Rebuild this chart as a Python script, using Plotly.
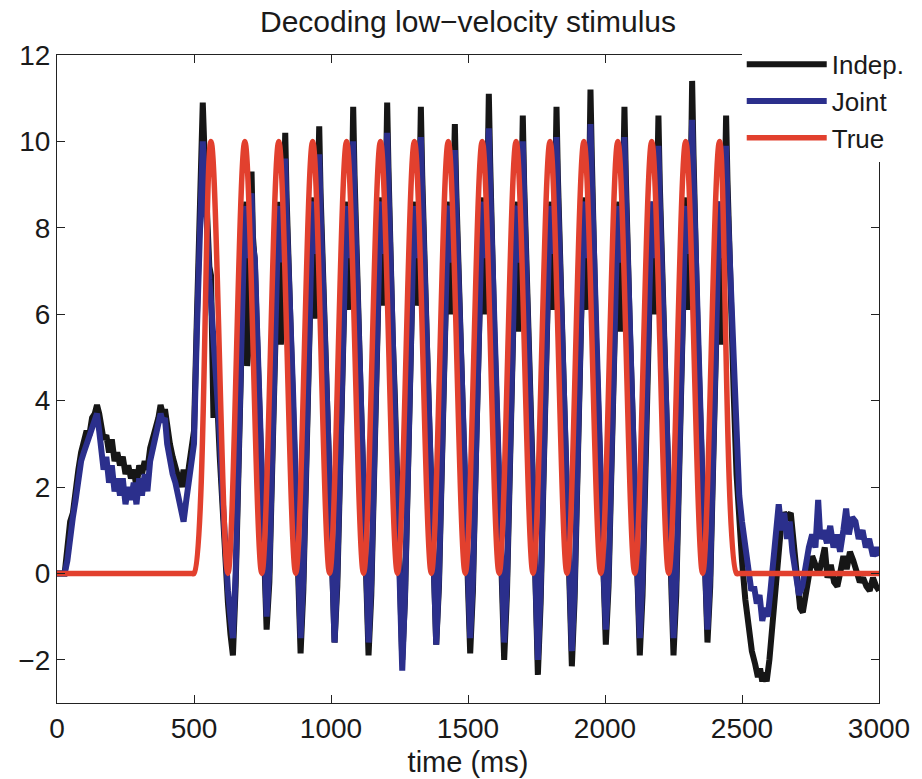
import plotly.graph_objects as go

# ---------------- data ----------------
# True stimulus: troughs/peaks of the velocity signal (ms, value)
true_t = [0, 490, 500, 561.9, 623.8, 685.6, 747.5, 809.4, 871.3, 933.1, 995.0,
          1056.9, 1118.8, 1180.6, 1242.5, 1304.4, 1366.3, 1428.1, 1490.0, 1551.9,
          1613.8, 1675.6, 1737.5, 1799.4, 1861.3, 1923.1, 1985.0, 2046.9, 2108.8,
          2170.6, 2232.5, 2294.4, 2356.3, 2418.1, 2480.0, 2490, 3000]
true_v = [0, 0, 0, 10, 0, 10, 0, 10, 0, 10, 0,
          10, 0, 10, 0, 10, 0, 10, 0, 10,
          0, 10, 0, 10, 0, 10, 0, 10, 0,
          10, 0, 10, 0, 10, 0, 0, 0]

# Pre-stimulus part and first cycle (shared time stamps)
pre_t = [0, 28, 38, 48, 58, 68, 78, 88, 98, 108, 118, 128, 138, 146, 154, 162, 170,
         180, 190, 200, 210, 220, 230, 240, 250, 260, 270, 280, 290, 300, 310, 320,
         330, 340, 350, 360, 370, 378, 386, 394, 402, 412, 422, 432, 442, 452, 462,
         472, 482, 492, 500, 510, 520, 532, 538, 544, 550, 556, 562, 567, 571, 576,
         584, 594, 604, 614, 624, 633]
pre_indep = [0, 0, 0.6, 1.2, 1.4, 2.0, 2.4, 2.8, 3.0, 3.3, 3.2, 3.6, 3.7, 3.9, 3.7, 3.4, 3.1,
             3.2, 2.8, 3.1, 2.6, 2.8, 2.5, 2.7, 2.3, 2.5, 2.2, 2.4, 2.0, 2.5, 2.3, 2.6,
             2.4, 2.9, 3.1, 3.4, 3.6, 3.9, 3.7, 3.8, 3.3, 3.0, 2.7, 2.5, 2.2, 2.0, 2.4,
             2.0, 2.5, 2.9, 3.3, 5.8, 8.6, 10.9, 9.8, 8.6, 7.6, 7.1, 6.9, 5.5, 3.6, 4.5,
             4.1, 2.7, 1.4, 0.3, -0.7, -1.4]
pre_joint = [0, 0, 0.3, 0.9, 1.3, 1.7, 2.2, 2.6, 2.8, 3.0, 3.1, 3.3, 3.5, 3.7, 3.3, 2.8, 2.4,
             2.7, 2.1, 2.5, 1.9, 2.2, 1.8, 2.2, 1.6, 2.0, 1.7, 2.1, 1.6, 2.2, 1.8, 2.3,
             1.9, 2.6, 2.9, 3.2, 3.4, 3.7, 3.5, 3.6, 3.0, 2.6, 2.3, 2.1, 1.8, 1.5, 1.2,
             1.7, 2.1, 2.6, 3.0, 5.5, 8.2, 10.0, 9.3, 8.3, 7.4, 6.8, 6.3, 5.8, 5.2, 4.8,
             4.4, 3.2, 1.8, 0.6, -0.4, -1.0]

# Oscillation cycles 1..15 (time stamps shared by both decoders)
cyc_t = [
    [642, 652, 664, 676, 685, 691, 694, 699, 704, 710, 715, 722, 730, 738, 748, 758],
    [765, 775, 787, 799, 808, 814, 817, 822, 827, 833, 838, 845, 853, 861, 871, 881],
    [889, 899, 911, 923, 932, 938, 941, 946, 951, 957, 962, 969, 977, 985, 995, 1005],
    [1013, 1023, 1035, 1047, 1056, 1062, 1065, 1070, 1075, 1081, 1086, 1093, 1101, 1109, 1119, 1129],
    [1137, 1147, 1159, 1171, 1180, 1186, 1189, 1194, 1199, 1205, 1210, 1217, 1225, 1233, 1243, 1253],
    [1260, 1270, 1282, 1294, 1303, 1309, 1312, 1317, 1322, 1328, 1333, 1340, 1348, 1356, 1366, 1376],
    [1384, 1394, 1406, 1418, 1427, 1433, 1436, 1441, 1446, 1452, 1457, 1464, 1472, 1480, 1490, 1500],
    [1508, 1518, 1530, 1542, 1551, 1557, 1560, 1565, 1570, 1576, 1581, 1588, 1596, 1604, 1614, 1624],
    [1632, 1642, 1654, 1666, 1675, 1681, 1684, 1689, 1694, 1700, 1705, 1712, 1720, 1728, 1738, 1748],
    [1755, 1765, 1777, 1789, 1798, 1804, 1807, 1812, 1817, 1823, 1828, 1835, 1843, 1851, 1861, 1871],
    [1879, 1889, 1901, 1913, 1922, 1928, 1931, 1936, 1941, 1947, 1952, 1959, 1967, 1975, 1985, 1995],
    [2003, 2013, 2025, 2037, 2046, 2052, 2055, 2060, 2065, 2071, 2076, 2083, 2091, 2099, 2109, 2119],
    [2127, 2137, 2149, 2161, 2170, 2176, 2179, 2184, 2189, 2195, 2200, 2207, 2215, 2223, 2233, 2243],
    [2250, 2260, 2272, 2284, 2293, 2299, 2302, 2307, 2312, 2318, 2323, 2330, 2338, 2346, 2356, 2366],
    [2374, 2384, 2396, 2408, 2417, 2423, 2426, 2431, 2436, 2442, 2447, 2454, 2462, 2470, 2480, 2490],
]
cyc_indep = [
    [-1.9, -0.3, 3.0, 6.2, 8.2, 8.6, 4.8, 5.2, 8.5, 9.3, 7.8, 7.2, 5.5, 4.0, 1.9, -0.4],
    [-1.3, -0.2, 3.1, 6.3, 8.1, 8.6, 5.3, 5.7, 8.5, 10.2, 8.7, 7.1, 5.6, 4.1, 1.8, -0.5],
    [-1.85, -0.4, 2.9, 6.1, 8.3, 8.7, 5.9, 6.3, 8.6, 10.35, 8.8, 7.3, 5.4, 3.9, 2.0, -0.3],
    [-1.6, -0.3, 3.0, 6.3, 8.2, 8.6, 6.1, 6.5, 8.5, 10.8, 9.2, 7.2, 5.6, 4.0, 1.9, -0.4],
    [-1.9, -0.5, 2.8, 6.2, 8.3, 8.7, 6.2, 6.6, 8.6, 10.9, 9.3, 7.1, 5.5, 4.1, 1.8, -0.5],
    [-2.0, -0.6, 2.9, 6.1, 8.2, 8.6, 6.2, 6.5, 8.5, 10.8, 9.2, 7.3, 5.6, 4.0, 2.0, -0.4],
    [-1.65, -0.3, 3.1, 6.3, 8.3, 8.6, 6.0, 6.4, 8.6, 10.4, 8.9, 7.2, 5.5, 3.9, 1.9, -0.3],
    [-1.85, -0.4, 3.0, 6.2, 8.2, 8.7, 6.0, 6.4, 8.6, 11.1, 9.5, 7.3, 5.6, 4.0, 1.8, -0.5],
    [-2.0, -0.5, 2.9, 6.2, 8.3, 8.6, 5.6, 6.0, 8.5, 10.6, 9.0, 7.2, 5.5, 4.1, 1.9, -0.6],
    [-2.35, -0.7, 2.8, 6.1, 8.2, 8.6, 6.1, 6.5, 8.6, 10.8, 9.2, 7.2, 5.6, 4.0, 1.8, -0.5],
    [-2.15, -0.6, 2.9, 6.2, 8.3, 8.7, 6.1, 6.5, 8.5, 11.2, 9.6, 7.3, 5.5, 3.9, 1.9, -0.3],
    [-1.65, -0.3, 3.1, 6.3, 8.2, 8.6, 5.6, 6.0, 8.6, 10.8, 9.2, 7.1, 5.6, 4.0, 1.9, -0.4],
    [-1.9, -0.5, 3.0, 6.2, 8.3, 8.6, 6.0, 6.4, 8.5, 10.6, 9.0, 7.2, 5.5, 4.1, 1.8, -0.5],
    [-1.9, -0.5, 2.9, 6.2, 8.2, 8.7, 6.1, 6.5, 8.6, 11.4, 9.7, 7.3, 5.6, 4.0, 1.9, -0.3],
    [-1.6, -0.3, 3.0, 6.3, 8.3, 8.6, 5.3, 5.7, 8.5, 10.6, 9.1, 7.3, 5.6, 4.1, 2.3, 1.1],
]
cyc_joint = [
    [-1.5, 0.0, 3.3, 6.5, 8.3, 8.5, 7.3, 7.5, 8.4, 8.8, 7.6, 7.3, 5.7, 4.2, 2.1, -0.2],
    [-1.0, 0.1, 3.4, 6.6, 8.3, 8.5, 7.2, 7.6, 8.7, 9.6, 8.3, 7.2, 5.8, 4.3, 2.2, -0.1],
    [-1.5, -0.1, 3.2, 6.4, 8.4, 8.6, 7.4, 7.6, 8.8, 9.7, 8.4, 7.4, 5.6, 4.1, 2.2, 0.0],
    [-1.6, 0.0, 3.3, 6.5, 8.3, 8.5, 7.3, 7.6, 8.7, 10.0, 8.7, 7.3, 5.8, 4.2, 2.1, -0.2],
    [-1.6, -0.2, 3.2, 6.5, 8.4, 8.6, 7.4, 7.7, 8.8, 10.2, 8.9, 7.2, 5.7, 4.3, 2.0, -0.3],
    [-2.25, -0.5, 3.1, 6.4, 8.3, 8.5, 7.3, 7.6, 8.7, 10.1, 8.8, 7.4, 5.8, 4.2, 2.2, -0.2],
    [-1.65, -0.1, 3.4, 6.6, 8.4, 8.5, 7.2, 7.5, 8.8, 9.8, 8.5, 7.3, 5.7, 4.1, 2.1, 0.0],
    [-1.5, -0.1, 3.3, 6.5, 8.3, 8.6, 7.3, 7.6, 8.8, 10.3, 9.0, 7.4, 5.8, 4.2, 2.0, -0.2],
    [-1.6, -0.2, 3.2, 6.5, 8.4, 8.5, 7.2, 7.5, 8.7, 10.0, 8.7, 7.3, 5.7, 4.3, 2.1, -0.3],
    [-2.0, -0.4, 3.1, 6.4, 8.3, 8.5, 7.4, 7.7, 8.8, 10.1, 8.8, 7.3, 5.8, 4.2, 2.0, -0.2],
    [-1.8, -0.3, 3.2, 6.5, 8.4, 8.6, 7.3, 7.6, 8.7, 10.4, 9.1, 7.4, 5.7, 4.1, 2.1, 0.0],
    [-1.3, 0.0, 3.4, 6.6, 8.3, 8.5, 7.2, 7.5, 8.8, 10.1, 8.8, 7.2, 5.8, 4.2, 2.1, -0.1],
    [-1.5, -0.1, 3.3, 6.5, 8.4, 8.6, 7.3, 7.6, 8.7, 9.9, 8.6, 7.3, 5.7, 4.3, 2.0, -0.2],
    [-1.5, -0.1, 3.2, 6.5, 8.3, 8.5, 7.4, 7.7, 8.8, 10.5, 9.2, 7.4, 5.8, 4.2, 2.1, 0.0],
    [-1.3, 0.0, 3.3, 6.6, 8.4, 8.6, 7.3, 7.6, 8.7, 9.9, 8.6, 7.4, 5.9, 4.4, 2.8, 1.8],
]

# Post-stimulus part
post_t_indep = [2500, 2512, 2524, 2536, 2548, 2558, 2566, 2574, 2582, 2590, 2600, 2610, 2620,
                2632, 2644, 2654, 2666, 2678, 2688, 2700, 2712, 2722, 2732, 2744, 2756, 2768,
                2780, 2792, 2802, 2812, 2824, 2836, 2848, 2858, 2870, 2882, 2894, 2906, 2918,
                2930, 2942, 2954, 2966, 2978, 2990, 3000]
post_indep = [0.3, -0.6, -1.3, -1.8, -2.1, -2.4, -2.2, -2.5, -2.3, -2.5, -2.0, -1.2, -0.3,
              0.6, 1.2, 1.4, 1.3, 1.4, 0.7, -0.2, -0.8, -0.9, -0.5, 0.0, 0.4, 0.2,
              0.0, 0.3, 0.6, -0.1, 0.2, -0.2, -0.3, 0.0, 0.4, 0.1, 0.5, 0.3, 0.0,
              -0.2, -0.1, -0.3, -0.4, -0.1, -0.3, -0.4]
post_t_joint = [2500, 2512, 2524, 2534, 2544, 2554, 2564, 2574, 2584, 2594, 2604, 2614, 2624,
                2634, 2644, 2654, 2664, 2674, 2684, 2696, 2708, 2720, 2732, 2744, 2756, 2768,
                2778, 2786, 2798, 2810, 2822, 2834, 2846, 2858, 2870, 2880, 2890, 2902, 2914,
                2926, 2940, 2952, 2964, 2978, 2990, 3000]
post_joint = [1.2, 0.6, 0.1, -0.4, -0.3, -0.7, -0.5, -1.1, -0.8, -1.0, -0.4, 0.4, 1.0,
              1.6, 1.0, 1.4, 0.8, 1.2, 0.5, -0.1, -0.5, -0.3, 0.2, 0.6, 0.9, 0.6,
              1.7, 0.8, 1.0, 0.7, 1.1, 0.6, 0.9, 0.5, 1.0, 1.5, 0.9, 1.3, 1.2,
              0.8, 1.0, 0.6, 0.8, 0.4, 0.6, 0.4]

x_ticks = [0, 500, 1000, 1500, 2000, 2500, 3000]
y_ticks = [-2, 0, 2, 4, 6, 8, 10, 12]

# ---------------- assemble series ----------------
indep_t = list(pre_t) + [t for row in cyc_t for t in row] + post_t_indep
indep_v = list(pre_indep) + [v for row in cyc_indep for v in row] + post_indep
joint_t = list(pre_t) + [t for row in cyc_t for t in row] + post_t_joint
joint_v = list(pre_joint) + [v for row in cyc_joint for v in row] + post_joint

FONT = "Liberation Sans, Arial, Helvetica, sans-serif"
C_INDEP = "#161616"
C_JOINT = "#2b2f8c"
C_TRUE = "#e2402e"

fig = go.Figure()
fig.add_trace(go.Scatter(x=indep_t, y=indep_v, mode="lines", name="Indep.",
                         line=dict(color=C_INDEP, width=6)))
fig.add_trace(go.Scatter(x=joint_t, y=joint_v, mode="lines", name="Joint",
                         line=dict(color=C_JOINT, width=6)))
fig.add_trace(go.Scatter(x=true_t, y=true_v, mode="lines", name="True",
                         line=dict(color=C_TRUE, width=5.5, shape="spline", smoothing=1)))

axis_common = dict(showgrid=False, zeroline=False, showline=True, mirror="ticks",
                   linecolor="#222222", linewidth=1.2, ticks="inside", ticklen=8,
                   tickwidth=1, tickcolor="#222222",
                   tickfont=dict(family=FONT, size=28, color="#1a1a1a"))

fig.update_xaxes(range=[0, 3000], tickvals=x_ticks, **axis_common,
                 title=dict(text="time (ms)", font=dict(family=FONT, size=29, color="#1a1a1a"),
                            standoff=8))
fig.update_yaxes(range=[-3, 12], tickvals=y_ticks, **axis_common)

fig.update_layout(
    width=922, height=779,
    margin=dict(l=57, r=43, t=55, b=76, autoexpand=False),
    paper_bgcolor="white", plot_bgcolor="white",
    title=dict(text="Decoding low\u2212velocity stimulus", x=0.5, xref="paper",
               y=1 - 21 / 779, yanchor="middle",
               font=dict(family=FONT, size=30, color="#1a1a1a")),
    legend=dict(x=0.833, y=1.022, xanchor="left", yanchor="top",
                bgcolor="white", borderwidth=0, itemwidth=80,
                font=dict(family=FONT, size=26, color="#1a1a1a"),
                tracegroupgap=0),
    showlegend=True,
)

fig.write_html("out.html")
